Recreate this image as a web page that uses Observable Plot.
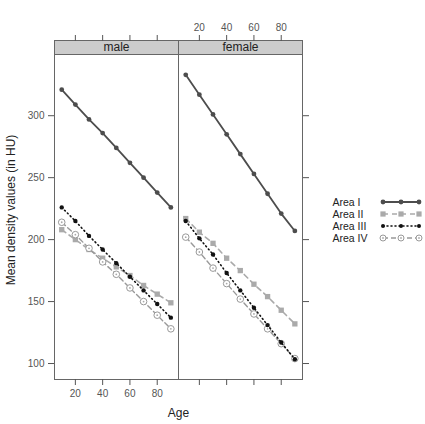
<!DOCTYPE html>
<html>
<head>
<meta charset="utf-8">
<script src="https://cdn.jsdelivr.net/npm/d3@7"></script>
<script src="https://cdn.jsdelivr.net/npm/@observablehq/plot@0.6"></script>
<style>
  html, body { margin: 0; padding: 0; background: #fff; }
  #wrap { position: relative; width: 425px; height: 424px; font-family: "Liberation Sans", Arial, sans-serif; }
  #legend { position: absolute; left: 0; top: 0; }
</style>
</head>
<body>
<div id="wrap"></div>
<script>
// ---- data ----
const panels = ["male", "female"];
const ages = [10, 20, 30, 40, 50, 60, 70, 80, 90];
const areas = ["Area I", "Area II", "Area III", "Area IV"];
const maleI   = [321, 309, 297, 286, 274, 262, 250, 238, 226];
const maleII  = [208, 200, 192, 185, 178, 171, 163, 156, 149];
const maleIII = [226, 215, 203, 192, 181, 170, 159, 148, 137];
const maleIV  = [214, 204, 193, 182, 172, 161, 150, 139, 128];
const femaleI   = [333, 317, 301, 285, 269, 253, 237, 221, 207];
const femaleII  = [217, 206, 197, 185, 175, 164, 154, 143, 132];
const femaleIII = [215, 201, 188, 173, 159, 145, 131, 117, 103.5];
const femaleIV  = [202, 190, 177, 164.5, 152, 140, 128, 116, 104];
const xTicks = [20, 40, 60, 80];
const yTicks = [100, 150, 200, 250, 300];
const xLabel = "Age";
const yLabel = "Mean density values (in HU)";

const series = {
  male: [maleI, maleII, maleIII, maleIV],
  female: [femaleI, femaleII, femaleIII, femaleIV]
};
const rows = [];
for (const sex of panels) {
  series[sex].forEach((vals, k) => {
    vals.forEach((v, i) => rows.push({sex, area: areas[k], age: ages[i], value: v}));
  });
}
const of = (a) => rows.filter(d => d.area === a);

const W = 425, H = 424, mt = 40, mb = 45, ml = 53, mr = 123;
const stripH = 14;
const panelH = H - mt - mb;
const axisColor = "#555";
const frameColor = "#666";
const font = "Liberation Sans, Arial, sans-serif";

const common = {x: "age", y: "value", fx: "sex"};

const chart = Plot.plot({
  width: W, height: H,
  marginTop: mt, marginBottom: mb, marginLeft: ml, marginRight: mr,
  style: {fontFamily: font, background: "white", overflow: "visible"},
  fx: {domain: panels, padding: 0, axis: null, label: null},
  x: {domain: [4.7, 95.6]},
  y: {domain: [87.1, 360.7]},
  marks: [
    // strips
    Plot.frame({fill: "#cccccc", stroke: frameColor, insetBottom: panelH - stripH}),
    Plot.text(panels, {fx: d => d, text: d => d, frameAnchor: "top", dy: stripH / 2, lineAnchor: "middle", fontSize: 12, fill: "#222"}),
    // panel frame
    Plot.frame({stroke: frameColor}),
    // axes
    Plot.axisY({anchor: "left", facetAnchor: "left", ticks: yTicks, tickSize: 6, tickPadding: 4, fontSize: 10, color: axisColor, label: null}),
    Plot.axisY({anchor: "right", facetAnchor: "right", ticks: yTicks, tickSize: 6, tickFormat: () => "", color: axisColor, label: null}),
    Plot.axisX({anchor: "bottom", facetAnchor: "bottom-left", ticks: xTicks, tickSize: 6, tickPadding: 4, fontSize: 10, color: axisColor, label: null}),
    Plot.axisX({anchor: "bottom", facetAnchor: "bottom-right", ticks: xTicks, tickSize: 6, tickFormat: () => "", color: axisColor, label: null}),
    Plot.axisX({anchor: "top", facetAnchor: "top-right", ticks: xTicks, tickSize: 6, tickPadding: 4, fontSize: 10, color: axisColor, label: null}),
    Plot.axisX({anchor: "top", facetAnchor: "top-left", ticks: xTicks, tickSize: 6, tickFormat: () => "", color: axisColor, label: null}),
    // axis titles
    Plot.text([xLabel], {text: d => d, facet: "super", frameAnchor: "bottom", dy: 34, lineAnchor: "middle", fontSize: 12, fill: "#222"}),
    Plot.text([yLabel], {text: d => d, facet: "super", frameAnchor: "left", dx: -43, rotate: -90, textAnchor: "middle", lineAnchor: "middle", fontSize: 12, fill: "#222"}),
    // Area II
    Plot.line(of("Area II"), {...common, stroke: "#aaaaaa", strokeWidth: 1.6, strokeDasharray: "5,4"}),
    Plot.dot(of("Area II"), {...common, symbol: "square", r: 3, fill: "#aaaaaa", stroke: null}),
    // Area IV
    Plot.line(of("Area IV"), {...common, stroke: "#999999", strokeWidth: 1.4, strokeDasharray: "5,3"}),
    Plot.dot(of("Area IV"), {...common, r: 3.3, fill: "white", stroke: "#999999", strokeWidth: 1}),
    Plot.dot(of("Area IV"), {...common, r: 0.9, fill: "#aaaaaa", stroke: null}),
    // Area III
    Plot.line(of("Area III"), {...common, stroke: "#111", strokeWidth: 1.6, strokeDasharray: "1,3", strokeLinecap: "round"}),
    Plot.dot(of("Area III"), {...common, r: 2.2, fill: "#111", stroke: null}),
    // Area I
    Plot.line(of("Area I"), {...common, stroke: "#4d4d4d", strokeWidth: 1.8}),
    Plot.dot(of("Area I"), {...common, r: 2.4, fill: "#4d4d4d", stroke: null})
  ]
});
document.getElementById("wrap").appendChild(chart);

// ---- legend (right side) ----
const legendStyles = [
  {stroke: "#4d4d4d", dash: null, sym: "circle", fill: "#4d4d4d", r: 2.4, w: 1.8},
  {stroke: "#aaaaaa", dash: "5,4", sym: "square", fill: "#aaaaaa", r: 3, w: 1.6},
  {stroke: "#111", dash: "1,3", sym: "circle", fill: "#111", r: 2, w: 1.6},
  {stroke: "#999999", dash: "5,3", sym: "ring", fill: "white", r: 3, w: 1.4}
];
const lg = d3.select("#wrap").append("svg").attr("id", "legend")
  .attr("width", W).attr("height", H).style("pointer-events", "none");
const y0 = 202, dyRow = 12;
areas.forEach((a, i) => {
  const y = y0 + i * dyRow;
  const s = legendStyles[i];
  lg.append("text").attr("x", 332.5).attr("y", y).attr("dy", "0.36em")
    .attr("font-family", font).attr("font-size", 10.5).attr("fill", "#222").text(a);
  lg.append("line").attr("x1", 383).attr("x2", 419).attr("y1", y).attr("y2", y)
    .attr("stroke", s.stroke).attr("stroke-width", s.w).attr("stroke-dasharray", s.dash)
    .attr("stroke-linecap", s.dash === "1,3" ? "round" : null);
  [383, 401, 419].forEach(x => {
    if (s.sym === "square") {
      lg.append("rect").attr("x", x - 2.6).attr("y", y - 2.6).attr("width", 5.2).attr("height", 5.2).attr("fill", s.fill);
    } else if (s.sym === "ring") {
      lg.append("circle").attr("cx", x).attr("cy", y).attr("r", s.r).attr("fill", "white").attr("stroke", s.stroke);
      lg.append("circle").attr("cx", x).attr("cy", y).attr("r", 0.9).attr("fill", "#aaaaaa");
    } else {
      lg.append("circle").attr("cx", x).attr("cy", y).attr("r", s.r).attr("fill", s.fill);
    }
  });
});
</script>
</body>
</html>
